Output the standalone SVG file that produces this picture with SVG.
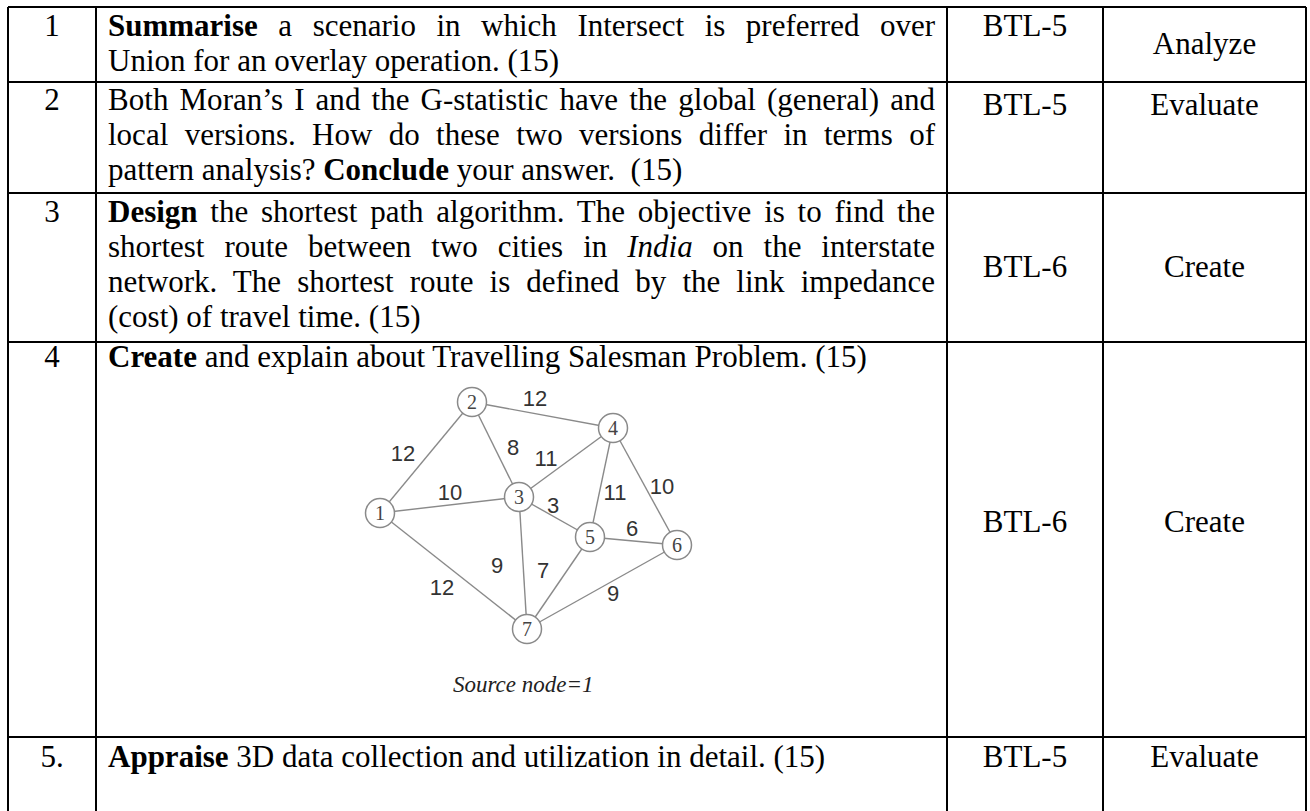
<svg xmlns="http://www.w3.org/2000/svg" width="1310" height="811" viewBox="0 0 1310 811">
<style>
.grid{stroke:#000;stroke-width:2;fill:none}
.t{font-family:"Liberation Serif","Times New Roman",serif;font-size:31px;fill:#000}
.b{font-weight:bold}
.i{font-style:italic}
.c{text-anchor:middle}
.edge{stroke:#8a8a8a;stroke-width:1.4;fill:none}
.node circle{fill:#fff;stroke:#8a8a8a;stroke-width:1.5}
.node text{font-family:"Liberation Serif","Times New Roman",serif;font-size:20px;fill:#444;text-anchor:middle}
.w{font-family:"Liberation Sans",Arial,sans-serif;font-size:22px;fill:#333;text-anchor:middle}
.src{font-family:"Liberation Serif","Times New Roman",serif;font-style:italic;font-size:23px;fill:#222}
</style>
<rect width="1310" height="811" fill="#fff"/>
<g id="table" class="grid">
<path d="M8 7H1306M8 82H1306M8 193H1306M8 342H1306M8 737H1306M8 7V811M96 7V811M947 7V811M1103 7V811M1306 7V811"/>
</g>
<g id="row1">
<text class="t c" x="52" y="36">1</text>
<text class="t" x="108" y="36" textLength="827" lengthAdjust="spacing" style="word-spacing:12.8px"><tspan class="b">Summarise</tspan> a scenario in which Intersect is preferred over</text>
<text class="t" x="108" y="71">Union for an overlay operation. (15)</text>
<text class="t c" x="1025" y="36">BTL-5</text>
<text class="t c" x="1204.5" y="54">Analyze</text>
</g>
<g id="row2">
<text class="t c" x="52" y="110">2</text>
<text class="t" x="108" y="110" textLength="827" lengthAdjust="spacing" style="word-spacing:3.3px">Both Moran’s I and the G-statistic have the global (general) and</text>
<text class="t" x="108" y="145" textLength="827" lengthAdjust="spacing" style="word-spacing:8.6px">local versions. How do these two versions differ in terms of</text>
<text class="t" x="108" y="180" xml:space="preserve">pattern analysis? <tspan class="b">Conclude</tspan> your answer.  (15)</text>
<text class="t c" x="1025" y="115">BTL-5</text>
<text class="t c" x="1204.5" y="115">Evaluate</text>
</g>
<g id="row3">
<text class="t c" x="52" y="222">3</text>
<text class="t" x="108" y="222" textLength="827" lengthAdjust="spacing" style="word-spacing:5px"><tspan class="b">Design</tspan> the shortest path algorithm. The objective is to find the</text>
<text class="t" x="108" y="257" textLength="827" lengthAdjust="spacing" style="word-spacing:12.2px">shortest route between two cities in <tspan class="i">India</tspan> on the interstate</text>
<text class="t" x="108" y="292" textLength="827" lengthAdjust="spacing" style="word-spacing:8.3px">network. The shortest route is defined by the link impedance</text>
<text class="t" x="108" y="327">(cost) of travel time. (15)</text>
<text class="t c" x="1025" y="277">BTL-6</text>
<text class="t c" x="1204.5" y="277">Create</text>
</g>
<g id="row4">
<text class="t c" x="52" y="367">4</text>
<text class="t" x="108" y="367"><tspan class="b">Create</tspan> and explain about Travelling Salesman Problem. (15)</text>
<text class="t c" x="1025" y="532">BTL-6</text>
<text class="t c" x="1204.5" y="532">Create</text>
</g>
<g id="connectors">
<line class="edge" x1="380" y1="513" x2="472" y2="402"/>
<line class="edge" x1="380" y1="513" x2="519" y2="497"/>
<line class="edge" x1="380" y1="513" x2="527" y2="629"/>
<line class="edge" x1="472" y1="402" x2="519" y2="497"/>
<line class="edge" x1="472" y1="402" x2="613" y2="428"/>
<line class="edge" x1="519" y1="497" x2="613" y2="428"/>
<line class="edge" x1="519" y1="497" x2="590" y2="537"/>
<line class="edge" x1="519" y1="497" x2="527" y2="629"/>
<line class="edge" x1="613" y1="428" x2="590" y2="537"/>
<line class="edge" x1="613" y1="428" x2="677" y2="545"/>
<line class="edge" x1="590" y1="537" x2="677" y2="545"/>
<line class="edge" x1="590" y1="537" x2="527" y2="629"/>
<line class="edge" x1="677" y1="545" x2="527" y2="629"/>
<text class="w" x="535" y="406">12</text>
<text class="w" x="403" y="461">12</text>
<text class="w" x="513" y="455">8</text>
<text class="w" x="546" y="466">11</text>
<text class="w" x="662" y="494">10</text>
<text class="w" x="615" y="500">11</text>
<text class="w" x="450" y="500">10</text>
<text class="w" x="553" y="513">3</text>
<text class="w" x="632" y="536">6</text>
<text class="w" x="497" y="573">9</text>
<text class="w" x="543" y="578">7</text>
<text class="w" x="442" y="595">12</text>
<text class="w" x="613" y="601">9</text>
</g>
<g id="n1" class="node"><circle cx="380" cy="513" r="14.5"/><text x="380" y="520">1</text></g>
<g id="n2" class="node"><circle cx="472" cy="402" r="14.5"/><text x="472" y="409">2</text></g>
<g id="n3" class="node"><circle cx="519" cy="497" r="14.5"/><text x="519" y="504">3</text></g>
<g id="n4" class="node"><circle cx="613" cy="428" r="14.5"/><text x="613" y="435">4</text></g>
<g id="n5" class="node"><circle cx="590" cy="537" r="14.5"/><text x="590" y="544">5</text></g>
<g id="n6" class="node"><circle cx="677" cy="545" r="14.5"/><text x="677" y="552">6</text></g>
<g id="n7" class="node"><circle cx="527" cy="629" r="14.5"/><text x="527" y="636">7</text></g>
<text class="src" x="453" y="692">Source node=1</text>
<g id="row5">
<text class="t c" x="52" y="767">5.</text>
<text class="t" x="108" y="767"><tspan class="b">Appraise</tspan> 3D data collection and utilization in detail. (15)</text>
<text class="t c" x="1025" y="767">BTL-5</text>
<text class="t c" x="1204.5" y="767">Evaluate</text>
</g>
</svg>
